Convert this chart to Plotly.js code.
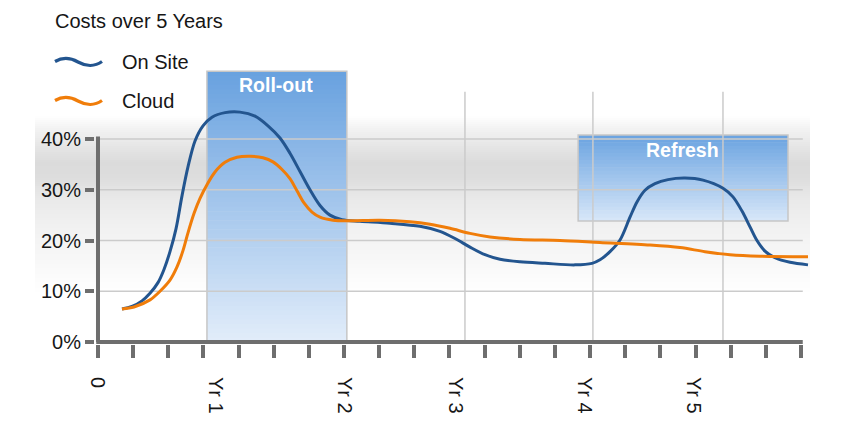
<!DOCTYPE html>
<html>
<head>
<meta charset="utf-8">
<script src="https://cdn.plot.ly/plotly-3.0.1.min.js"></script>
<style>
html,body{margin:0;padding:0;background:#ffffff;}
#chart{width:850px;height:425px;}
</style>
</head>
<body>
<div id="chart"></div>
<script>
// ---------------- DATA ----------------
const chartTitle = 'Costs over 5 Years';
const seriesNames = ['On Site', 'Cloud'];

// time position (tick units along the x axis) and cost share (%)
const onSiteX = [0.683, 0.967, 1.252, 1.479, 1.707, 1.878, 2.048, 2.219, 2.390, 2.560, 2.760, 2.987, 3.243, 3.613, 4.040, 4.467, 4.836, 5.178, 5.462, 5.747, 6.031, 6.316, 6.600, 6.942, 7.454, 8.307, 9.161, 9.730, 10.156, 10.583, 11.010, 11.437, 12.006, 12.717, 13.570, 14.054, 14.282, 14.566, 14.851, 15.135, 15.334, 15.562, 15.846, 16.216, 16.700, 17.212, 17.781, 18.065, 18.321, 18.549, 18.748, 18.976, 19.260, 19.687, 20.199];
const onSiteY = [6.5, 7.0, 8.1, 9.6, 11.7, 14.3, 17.8, 22.3, 28.8, 34.5, 39.6, 42.6, 44.3, 45.2, 45.3, 44.5, 42.6, 40.2, 37.2, 33.6, 30.0, 26.9, 25.0, 24.1, 23.8, 23.4, 22.8, 21.8, 20.4, 18.7, 17.2, 16.3, 15.8, 15.5, 15.2, 15.5, 16.2, 17.8, 20.1, 24.6, 27.6, 29.9, 31.2, 32.0, 32.3, 31.9, 30.3, 28.6, 25.8, 22.7, 20.0, 17.9, 16.6, 15.7, 15.2];

const cloudX = [0.683, 1.024, 1.479, 1.764, 2.048, 2.248, 2.418, 2.560, 2.731, 2.902, 3.101, 3.329, 3.613, 3.954, 4.324, 4.694, 4.979, 5.235, 5.462, 5.661, 5.861, 6.088, 6.316, 6.686, 7.169, 8.023, 8.876, 9.445, 10.014, 10.583, 11.152, 12.006, 13.144, 14.282, 15.704, 16.558, 17.269, 17.980, 18.834, 20.199];
const cloudY = [6.5, 6.9, 8.3, 10.0, 12.2, 14.8, 18.0, 21.5, 25.3, 28.3, 31.0, 33.5, 35.4, 36.4, 36.6, 36.3, 35.5, 34.0, 32.2, 29.8, 27.4, 25.6, 24.6, 24.0, 23.9, 24.0, 23.7, 23.2, 22.4, 21.4, 20.7, 20.2, 20.0, 19.6, 19.1, 18.6, 17.8, 17.2, 16.9, 16.8];

const yTickValues = [0, 10, 20, 30, 40];
const yTickLabels = ['0%', '10%', '20%', '30%', '40%'];
const periodLabels = ['0', 'Yr 1', 'Yr 2', 'Yr 3', 'Yr 4', 'Yr 5'];
const phaseLabels = ['Roll-out', 'Refresh'];

// ---------------- LAYOUT / STYLE ----------------
const FONT = 'Liberation Sans, Arial, Helvetica, sans-serif';
const BLUE = '#23558f';
const ORANGE = '#f07d0a';
const AXIS = '#6e6e6e';
const GRID = '#cbcbcb';
const TXT = '#161616';

const M = {l: 95, r: 40, t: 70, b: 81};
const PW = 850 - M.l - M.r, PH = 425 - M.t - M.b;
const xRange = [-0.085, 20.256];
const yRange = [-0.394, 53.6];
const px = x => (x - M.l) / PW;          // pixel -> paper x
const py = y => (M.t + PH - y) / PH;     // pixel -> paper y

const labelPos = [0, 3.33, 7.01, 10.17, 13.85, 16.94];
const yearGrid = [10.44, 14.08, 17.78];
const rollout = {x0: 3.10, x1: 7.08, y0: 0, y1: 53.35};
const refresh = {x0: 13.66, x1: 19.63, y0: 23.84, y1: 40.8};

const minorTicks = [];
for (let i = 0; i <= 20; i++) minorTicks.push(i);

function lerp(a, b, t) { return a + (b - a) * t; }
function rgb(c) { return 'rgb(' + c.map(v => Math.round(v)).join(',') + ')'; }

const shapes = [];

// soft gray background band (paper referenced)
const bandStops = [[116,255],[128,243],[146,230],[163,219],[178,221],[196,232],[226,241],[262,248],[294,255]];
function bandGray(y) {
  for (let i = 0; i < bandStops.length - 1; i++) {
    const a = bandStops[i], b = bandStops[i+1];
    if (y >= a[0] && y <= b[0]) return lerp(a[1], b[1], (y - a[0]) / (b[0] - a[0]));
  }
  return 255;
}
for (let y = 116; y < 294; y += 2) {
  const g = bandGray(y + 1);
  shapes.push({type:'rect', xref:'paper', yref:'paper', layer:'below',
    x0: px(35), x1: px(810), y0: py(y + 2.3), y1: py(y),
    fillcolor: rgb([g,g,g]), line:{width:0}});
}

// gradient boxes
function gradBox(b, n, top, bot) {
  const h = (b.y1 - b.y0) / n;
  for (let i = 0; i < n; i++) {
    const t = (i + 0.5) / n;
    const c = [lerp(top[0], bot[0], t), lerp(top[1], bot[1], t), lerp(top[2], bot[2], t)];
    shapes.push({type:'rect', xref:'x', yref:'y', layer:'below',
      x0: b.x0, x1: b.x1, y1: b.y1 - i * h, y0: Math.max(b.y0, b.y1 - (i + 1) * h - 0.12),
      fillcolor: rgb(c), line:{width:0}});
  }
  shapes.push({type:'rect', xref:'x', yref:'y', layer:'below',
    x0: b.x0, x1: b.x1, y0: b.y0, y1: b.y1,
    fillcolor:'rgba(0,0,0,0)', line:{color:'#c6c6c6', width:1.5}});
}
gradBox(rollout, 60, [104,161,223], [226,237,250]);
gradBox(refresh, 24, [106,163,224], [216,231,248]);

// gridlines
yTickValues.slice(1).forEach(v => shapes.push({type:'line', xref:'x', yref:'y', layer:'below',
  x0: 0, x1: 20.05, y0: v, y1: v, line:{color: GRID, width:1.5}}));
yearGrid.forEach(v => shapes.push({type:'line', xref:'x', yref:'y', layer:'below',
  x0: v, x1: v, y0: 0, y1: 49.3, line:{color: GRID, width:1.5}}));

// axis lines
shapes.push({type:'line', xref:'x', yref:'y', layer:'above', x0:0, x1:0, y0:0, y1:40.5, line:{color:AXIS, width:4}});
shapes.push({type:'line', xref:'x', yref:'y', layer:'above', x0:-0.05, x1:20.05, y0:0, y1:0, line:{color:AXIS, width:4}});

// legend glyphs (wavy lines)
function wave(cx, cy) {
  const p = (x, y) => px(x).toFixed(5) + ',' + py(y).toFixed(5);
  return 'M ' + p(cx, cy - 0.5) + ' C ' + p(cx + 7, cy - 4.5) + ' ' + p(cx + 15, cy - 4.5) + ' ' + p(cx + 23, cy) +
         ' C ' + p(cx + 31, cy + 4.5) + ' ' + p(cx + 40, cy + 4.5) + ' ' + p(cx + 47, cy - 0.5);
}
const legendColors = [BLUE, ORANGE];
const legendY = [62, 101];
legendColors.forEach((c, i) => shapes.push({type:'path', xref:'paper', yref:'paper', layer:'above',
  path: wave(55, legendY[i]), line:{color:c, width:3.2}}));

const annotations = [];
seriesNames.forEach((n, i) => annotations.push({xref:'paper', yref:'paper', x: px(120), y: py(legendY[i]),
  xanchor:'left', yanchor:'middle', text:n, showarrow:false, font:{family:FONT, size:20, color:TXT}}));
annotations.push({xref:'x', yref:'y', x:(rollout.x0 + rollout.x1)/2 - 0.02, y:50.6, text:'<b>' + phaseLabels[0] + '</b>',
  showarrow:false, xanchor:'center', yanchor:'middle', font:{family:FONT, size:19.5, color:'#ffffff'}});
annotations.push({xref:'x', yref:'y', x:16.64, y:37.8, text:'<b>' + phaseLabels[1] + '</b>',
  showarrow:false, xanchor:'center', yanchor:'middle', font:{family:FONT, size:19.5, color:'#ffffff'}});

const traces = [
  {x: onSiteX, y: onSiteY, name: seriesNames[0], type:'scatter', mode:'lines',
   line:{color:BLUE, width:3, shape:'spline', smoothing:0.9}, showlegend:false, hoverinfo:'skip'},
  {x: cloudX, y: cloudY, name: seriesNames[1], type:'scatter', mode:'lines',
   line:{color:ORANGE, width:3, shape:'spline', smoothing:0.9}, showlegend:false, hoverinfo:'skip'},
  {x: [], y: [], xaxis:'x2', yaxis:'y', type:'scatter', mode:'lines', showlegend:false, hoverinfo:'skip'}
];

const layout = {
  width: 850, height: 425,
  margin: M,
  paper_bgcolor:'#ffffff', plot_bgcolor:'rgba(0,0,0,0)',
  font:{family:FONT, color:TXT, size:20},
  showlegend:false,
  hovermode:false,
  title:{text: chartTitle, font:{family:FONT, size:20, color:TXT},
    xref:'container', x: 55/850, xanchor:'left', yref:'container', y: 1 - 21/425, yanchor:'middle'},
  xaxis:{range:xRange, tickmode:'array', tickvals:minorTicks, showticklabels:false,
    ticks:'outside', ticklen:13, tickwidth:4, tickcolor:AXIS,
    showgrid:false, zeroline:false, showline:false, fixedrange:true},
  xaxis2:{range:xRange, overlaying:'x', anchor:'y', side:'bottom', tickmode:'array',
    tickvals:labelPos, ticktext:periodLabels, tickangle:90, ticks:'',
    ticklabelstandoff:32, tickfont:{family:FONT, size:20, color:TXT},
    showgrid:false, zeroline:false, showline:false, fixedrange:true},
  yaxis:{range:yRange, tickmode:'array', tickvals:yTickValues, ticktext:yTickLabels,
    ticks:'outside', ticklen:9, tickwidth:4, tickcolor:AXIS,
    tickfont:{family:FONT, size:20, color:TXT},
    showgrid:false, zeroline:false, showline:false, fixedrange:true},
  shapes: shapes,
  annotations: annotations
};

Plotly.newPlot('chart', traces, layout, {displayModeBar:false, staticPlot:true});
</script>
</body>
</html>
